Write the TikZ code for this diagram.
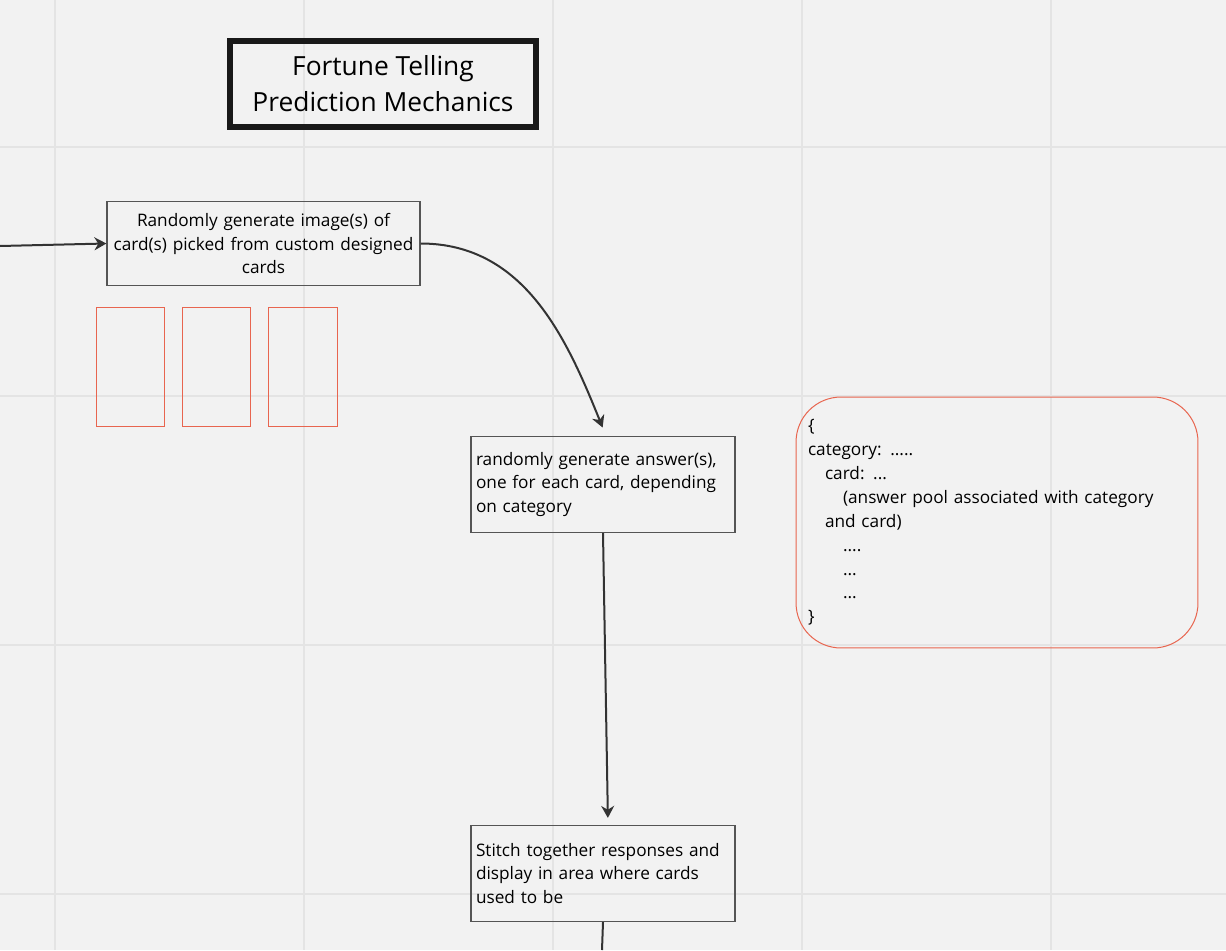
\documentclass[tikz,border=0pt]{standalone}
\usepackage{fontspec}
\setmainfont{Open Sans}
\usetikzlibrary{arrows.meta}

\definecolor{boardbg}{HTML}{F2F2F2}
\definecolor{gridline}{HTML}{E4E4E4}
\definecolor{cardred}{HTML}{E8654F}
\definecolor{boxline}{HTML}{555555}
\definecolor{ink}{HTML}{333333}

\begin{document}
\begin{tikzpicture}
    [x=0.02cm, y=-0.02cm,
     flow/.style={-{Stealth[length=0.24cm,width=0.26cm]},line width=0.04cm,draw=ink},
     stepbox/.style={draw=boxline,line width=0.025cm,minimum width=5.28cm,minimum height=1.92cm,
       text width=5.08cm,inner xsep=0.1cm,align=left,font=\fontsize{9.8}{13.6}\selectfont},
     cardbox/.style={draw=cardred,line width=0.02cm,minimum width=1.38cm,minimum height=2.4cm}]
    \useasboundingbox (0,0) rectangle (1226,950);
    \fill [boardbg] (0,0) rectangle (1226,950);
    % board grid
    \foreach \gx in {55,304,553,802,1051}
      \draw [gridline,line width=0.04cm] (\gx,0) -- (\gx,950);
    \foreach \gy in {147,396,645,894}
      \draw [gridline,line width=0.04cm] (0,\gy) -- (1226,\gy);

    \node [draw=black!90,line width=0.12cm,minimum width=6.12cm,minimum height=1.72cm,align=center,
      font=\fontsize{15}{20.6}\selectfont] (title) at (383,84) {Fortune Telling\\Prediction Mechanics};

    \coordinate (entry) at (0,246);
    \node [stepbox,minimum width=6.26cm,minimum height=1.68cm,text width=6.06cm,align=center]
      (pick) at (263.5,243.5) {Randomly generate image(s) of\\card(s) picked from custom designed\\cards};
    \node [cardbox] (card1) at (130.5,367) {};
    \node [cardbox] (card2) at (216.5,367) {};
    \node [cardbox] (card3) at (303,367) {};

    \node [stepbox] (answer) at (603,484.5) {randomly generate answer(s),\\one for each card, depending\\on category};
    \node [stepbox] (stitch) at (603,873.5) {Stitch together responses and\\display in area where cards\\used to be};
    \coordinate (exit) at (602,950);

    \node [draw=cardred,line width=0.02cm,rounded corners=0.9cm,minimum width=8.04cm,minimum height=5.02cm,
      text width=7.56cm,inner xsep=0.24cm,align=left,font=\fontsize{9.8}{13.6}\selectfont]
      (pool) at (997,522.5) {\{\\
        category: .....\\
        \hspace*{0.34cm}card: ...\\
        \hspace*{0.7cm}(answer pool associated with category\\
        \hspace*{0.34cm}and card)\\
        \hspace*{0.7cm}....\\
        \hspace*{0.7cm}...\\
        \hspace*{0.7cm}...\\
        \}};

    \draw [flow] (entry) -- (pick.west);
    \draw [flow,shorten >=0.18cm] (pick.east) to[out=0,in=112] ([xshift=0.06cm]answer.north);
    \draw [flow,shorten >=0.14cm] (answer.south) -- ([xshift=0.1cm]stitch.north);
    \draw [line width=0.04cm,draw=ink] (stitch.south) -- (exit);
\end{tikzpicture}
\end{document}
